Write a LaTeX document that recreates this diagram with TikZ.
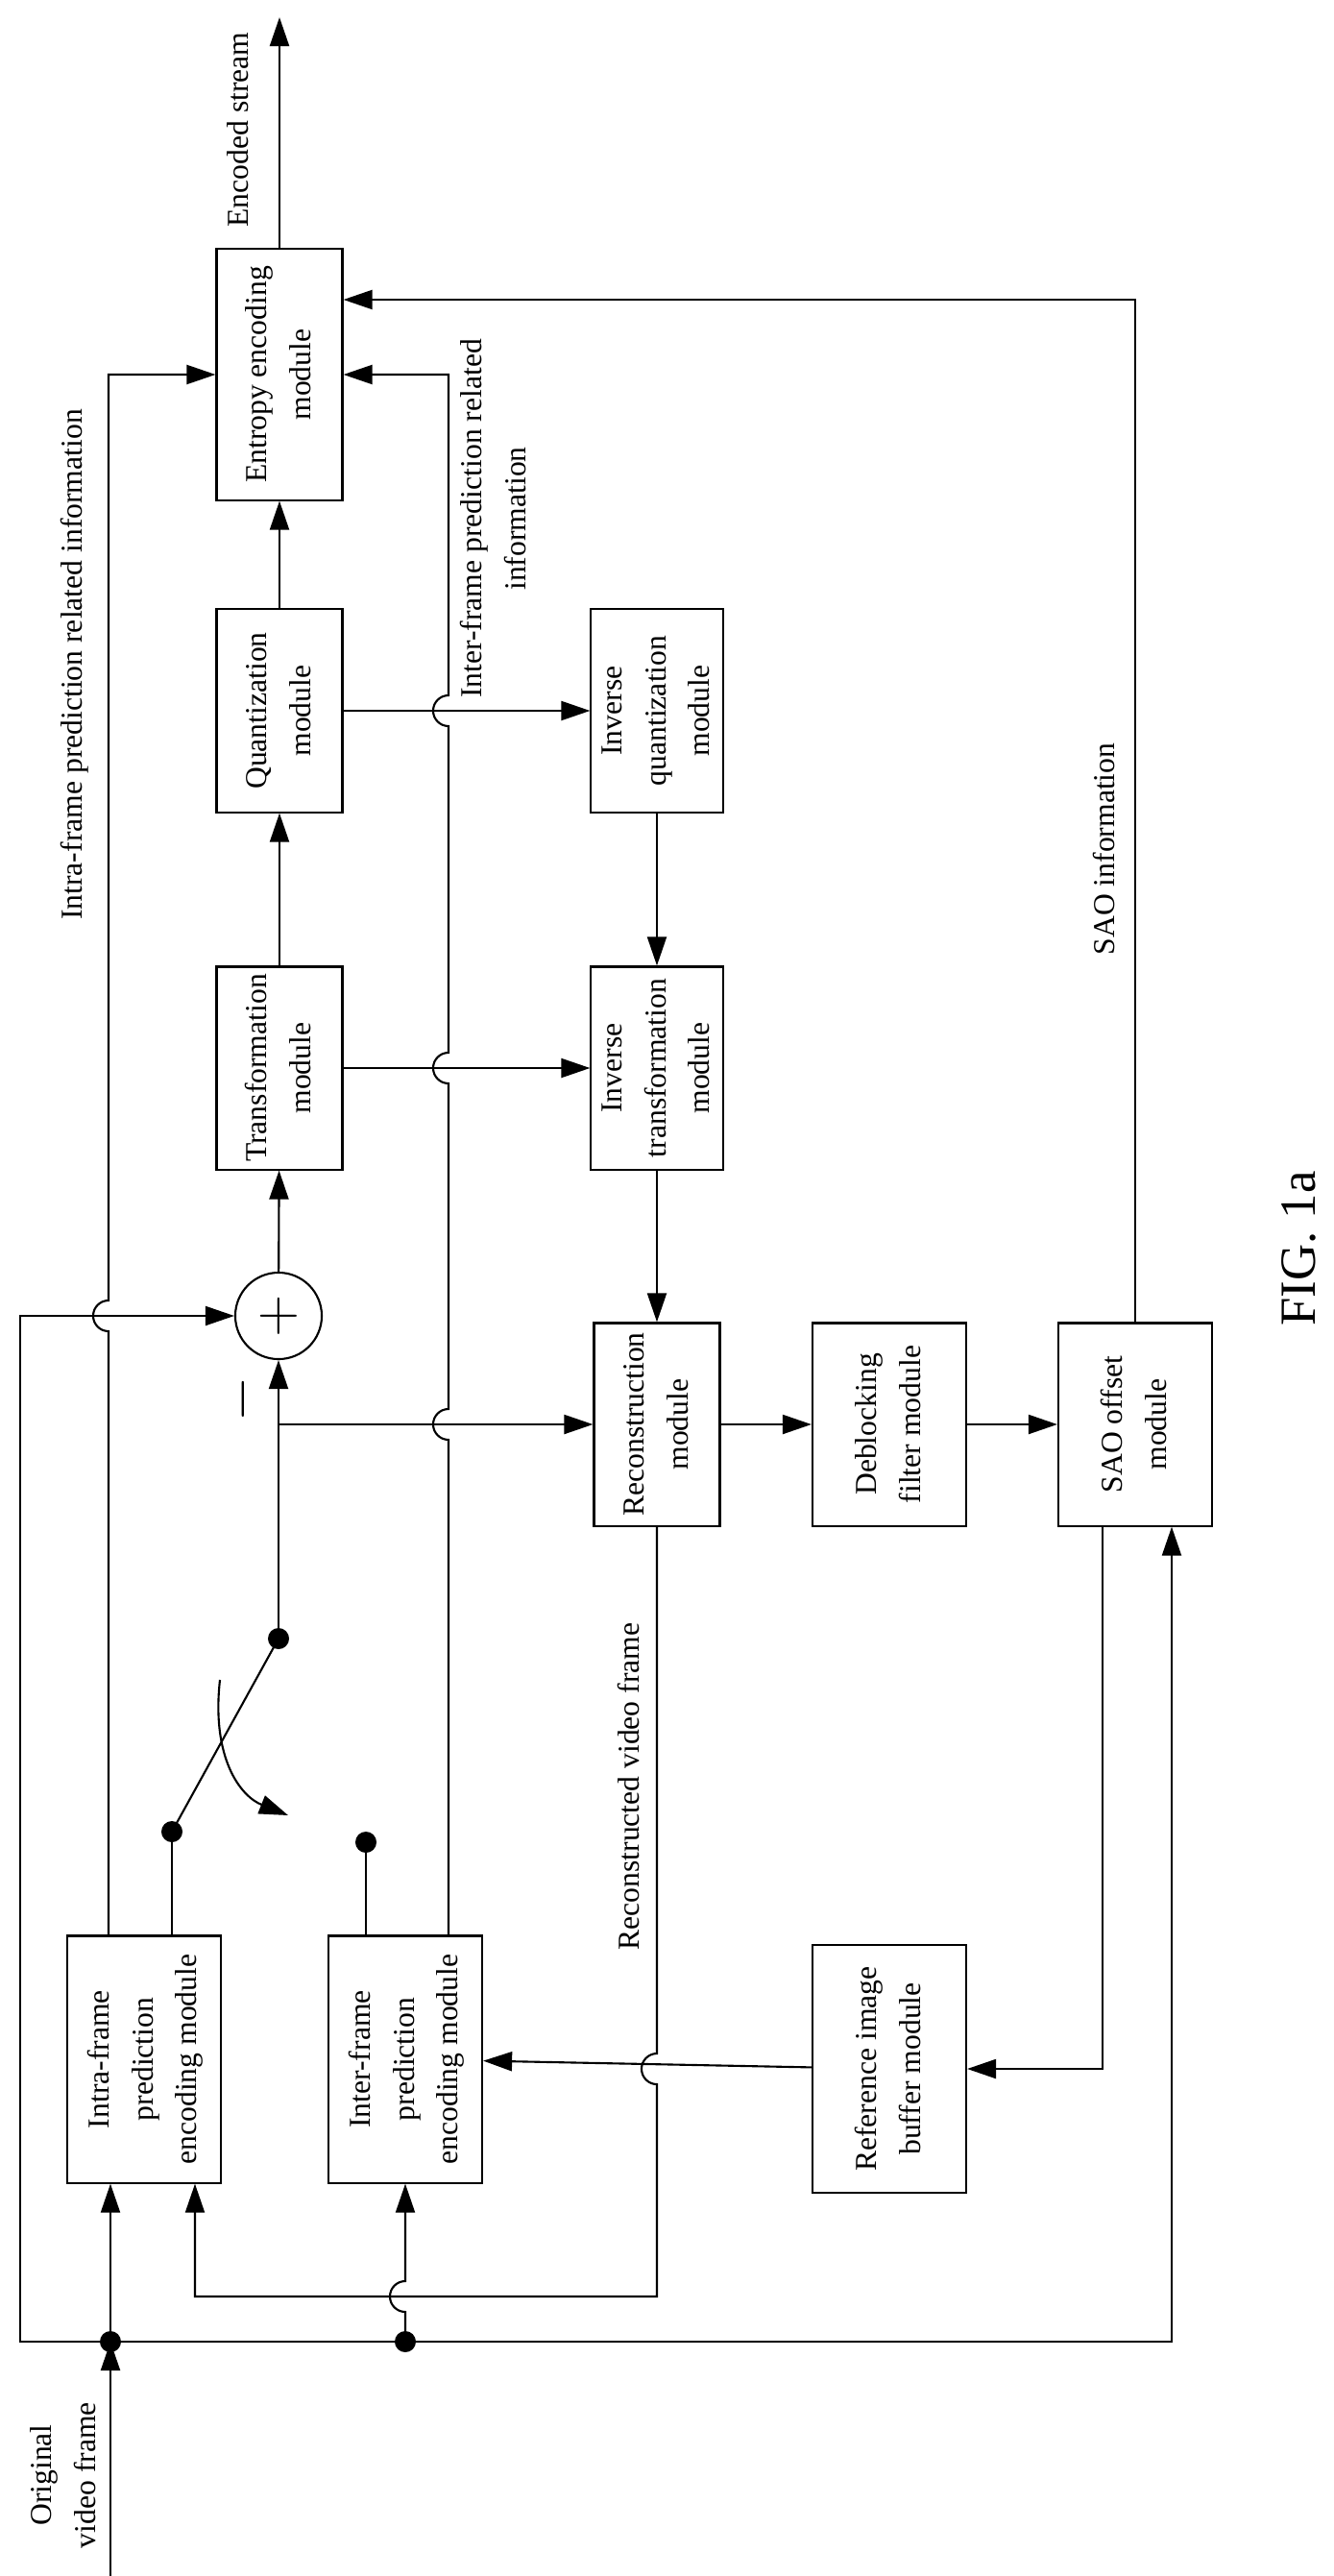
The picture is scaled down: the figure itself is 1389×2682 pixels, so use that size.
\documentclass[tikz,border=0pt]{standalone}
\usepackage{fontspec}
\setmainfont{Liberation Serif}
\usetikzlibrary{arrows.meta,calc}
\newcommand{\vtext}[1]{\rotatebox{90}{\begin{tabular}{@{}c@{}}#1\end{tabular}}}

\begin{document}
\begin{tikzpicture}[x=0.01cm,y=-0.01cm,font=\fontsize{9}{13}\selectfont,line width=0.6pt,
    >={Triangle[length=0.3cm,width=0.2cm]},
    module/.style={draw,inner sep=0pt,minimum height=2.11cm},
    narrow/.style={module,minimum width=1.31cm},
    wide/.style={module,minimum width=1.6cm}]

  \useasboundingbox (0,0) rectangle (1389,2682);

  % modules
  \node[narrow,minimum height=2.61cm] (entropy) at (291,390)  {\vtext{Entropy encoding\\module}};
  \node[narrow] (quant)   at (291,740)  {\vtext{Quantization\\module}};
  \node[narrow] (trans)   at (291,1112) {\vtext{Transformation\\module}};
  \node[narrow] (invq)    at (684,740)  {\vtext{Inverse\\quantization\\module}};
  \node[narrow] (invt)    at (684,1112) {\vtext{Inverse\\transformation\\module}};
  \node[narrow] (recon)   at (684,1483) {\vtext{Reconstruction\\module}};
  \node[wide]   (deblock) at (926,1483) {\vtext{Deblocking\\filter module}};
  \node[wide]   (sao)     at (1182,1483) {\vtext{SAO offset\\module}};
  \node[wide,minimum height=2.58cm] (refbuf) at (926,2154) {\vtext{Reference image\\buffer module}};
  \node[wide,minimum height=2.57cm] (intra)  at (150,2144) {\vtext{Intra-frame\\prediction\\encoding module}};
  \node[wide,minimum height=2.57cm] (inter)  at (422,2144) {\vtext{Inter-frame\\prediction\\encoding module}};
  \node[circle,draw,minimum size=0.9cm,inner sep=0pt] (sum) at (290,1370) {\LARGE$+$};

  % points
  \coordinate (stream) at (291,18);
  \coordinate (src)    at (115,2682);
  \coordinate (jin)    at (115,2438);
  \coordinate (jinter) at (422,2438);
  \coordinate (sw)     at (290,1706);
  \coordinate (d1)     at (179,1907);
  \coordinate (d2)     at (381,1918);
  \coordinate (br)     at (290,1483);
  \coordinate (rotA)   at (229,1749);
  \coordinate (rotB)   at (300,1890);

  % forward chain
  \draw[->] (entropy) -- (stream);
  \draw[->] (quant) -- (entropy);
  \draw[->] (trans) -- (quant);
  \draw[->] (sum) -- (trans);
  \draw[->] (quant) -- (invq);
  \draw[->] (trans) -- (invt);
  \draw[->] (invq) -- (invt);
  \draw[->] (invt) -- (recon);
  \draw[->] (recon) -- (deblock);
  \draw[->] (deblock) -- (sao);
  \draw[->] (sao.north) |- ($(entropy.east)+(0,-78)$);
  \draw[->] ($(sao.south)+(-34,0)$) |- (refbuf.east);
  \draw[->] (refbuf) -- (inter);

  % reconstructed frame back to intra
  \draw[->] (recon.south) -- (684,2138) arc[start angle=90,end angle=270,radius=0.16cm]
    -- (684,2391) -| ($(intra.south)+(53,0)$);

  % original frame
  \draw[->] (src) -- (jin);
  \draw[->] (jin) -- (intra.south -| jin);
  \draw[->] (jin) -- (21,2438) -- (21,1370) -- (sum.west);
  \draw[->] (jin) -| ($(sao.south)+(38,0)$);
  \draw[->] (jinter) -- (422,2407) arc[start angle=-90,end angle=-270,radius=0.16cm] -- (inter.south);

  % prediction info
  \draw[->] ($(intra.north)+(-37,0)$) -- (113,1386) arc[start angle=-90,end angle=-270,radius=0.16cm]
    -- (113,390) -- (entropy.west);
  \draw[->] ($(inter.north)+(45,0)$) -- (467,1499) arc[start angle=-90,end angle=-270,radius=0.16cm]
    -- (467,1128) arc[start angle=-90,end angle=-270,radius=0.16cm]
    -- (467,756) arc[start angle=-90,end angle=-270,radius=0.16cm]
    -- (467,390) -- (entropy.east);

  % switch
  \draw ($(intra.north)+(29,0)$) -- (d1);
  \draw ($(inter.north)+(-41,0)$) -- (d2);
  \draw (d1) -- (sw);
  \draw[->] (sw) -- (sum.south);
  \draw[->] (br) -- (recon.west);
  \draw[->] (rotA) .. controls (220,1830) and (250,1870) .. (rotB);
  \foreach \d in {sw,d1,d2,jin,jinter}
    \fill (\d) circle[radius=0.11cm];

  % labels
  \node (minus)   at (253,1457) {\rotatebox{90}{\LARGE$-$}};
  \node (lstream) at (248,135)  {\rotatebox{90}{Encoded stream}};
  \node (lintra)  at (78,692)   {\rotatebox{90}{Intra-frame prediction related information}};
  \node (linter)  at (515,540)  {\vtext{Inter-frame prediction related\\information}};
  \node (lsao)    at (1149,884) {\rotatebox{90}{SAO information}};
  \node (lrecon)  at (655,1860) {\rotatebox{90}{Reconstructed video frame}};
  \node (lorig)   at (67,2577)  {\vtext{Original\\video frame}};
  \node (lfig)    at (1352,1300) {\rotatebox{90}{\fontsize{15}{18}\selectfont FIG. 1a}};
\end{tikzpicture}
\end{document}
